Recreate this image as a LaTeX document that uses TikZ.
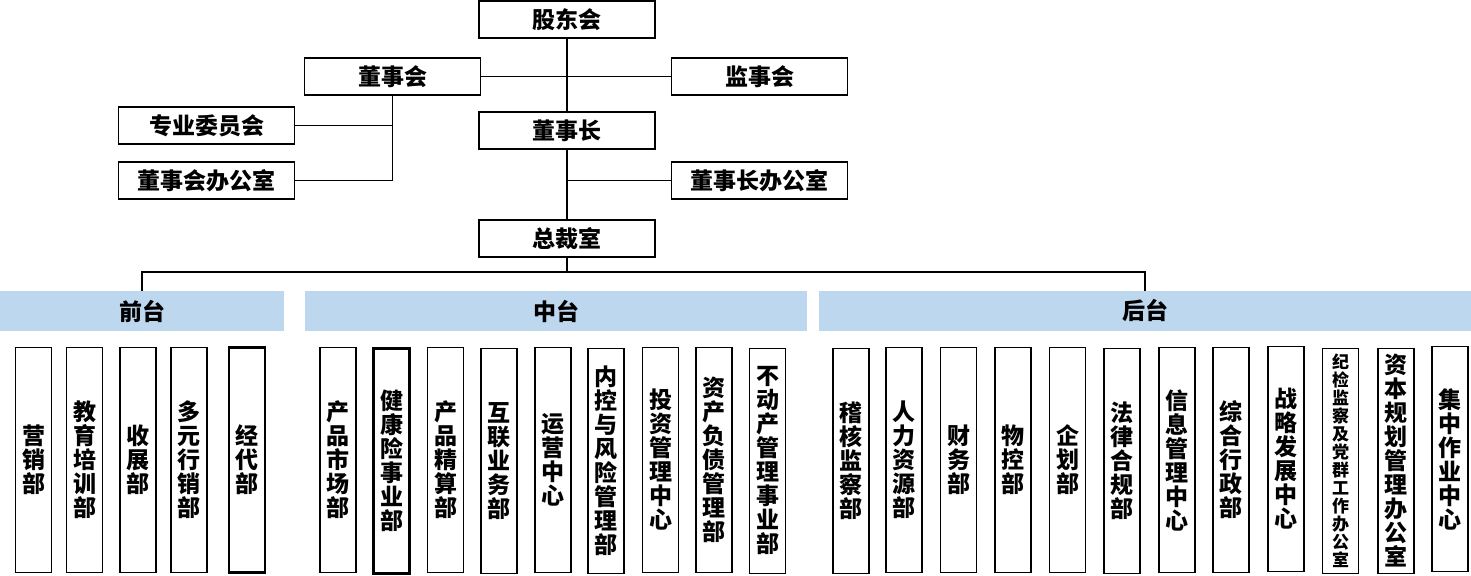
\documentclass[tikz,border=0pt]{standalone}
\usepackage{fontspec}
\setmainfont{Noto Sans CJK SC}
\usepackage{tikz}
\definecolor{bandblue}{HTML}{BDD7EE}

\begin{document}
\begin{tikzpicture}[x=0.5pt,y=-0.5pt,
    org_node/.style={rectangle,draw,line width=0.6pt,minimum width=88pt,minimum height=18.5pt,inner sep=0pt,font=\bfseries\fontsize{11.5}{12}\selectfont},
    band_node/.style={rectangle,fill=bandblue,minimum height=20pt,inner sep=0pt,font=\bfseries\fontsize{11.5}{12}\selectfont},
    dept_node/.style={rectangle,draw,line width=0.6pt,minimum width=18pt,minimum height=112.5pt,inner sep=0pt,align=center,font=\bfseries\fontsize{11.5}{12}\selectfont},
    thick_node/.style={line width=1.2pt}]

    \useasboundingbox (0,0) rectangle (1471,576);

    \node[org_node] (1) at (567, 19.5) {股东会};
    \node[org_node] (2) at (392.5, 76.5) {董事会};
    \node[org_node] (3) at (759.5, 76.5) {监事会};
    \node[org_node] (4) at (206.5, 125.5) {专业委员会};
    \node[org_node, thick_node] (5) at (567, 130.5) {董事长};
    \node[org_node] (6) at (206.5, 180.5) {董事会办公室};
    \node[org_node] (7) at (759.5, 180.5) {董事长办公室};
    \node[org_node] (8) at (567, 238.5) {总裁室};

    \node[band_node, minimum width=142pt] (9) at (142, 311) {前台};
    \node[band_node, minimum width=251pt] (10) at (556, 311) {中台};
    \node[band_node, minimum width=326pt] (11) at (1145, 311) {后台};

    % front
    \node[dept_node] (f1) at (33.5, 460) {营\\销\\部};
    \node[dept_node] (f2) at (84.5, 460) {教\\育\\培\\训\\部};
    \node[dept_node] (f3) at (138, 460) {收\\展\\部};
    \node[dept_node] (f4) at (189, 460) {多\\元\\行\\销\\部};
    \node[dept_node, thick_node] (f5) at (247, 460) {经\\代\\部};

    % middle
    \node[dept_node] (m1) at (338, 460) {产\\品\\市\\场\\部};
    \node[dept_node, thick_node] (m2) at (391.5, 461) {健\\康\\险\\事\\业\\部};
    \node[dept_node] (m3) at (445.5, 460) {产\\品\\精\\算\\部};
    \node[dept_node] (m4) at (499, 461) {互\\联\\业\\务\\部};
    \node[dept_node] (m5) at (553, 460) {运\\营\\中\\心};
    \node[dept_node] (m6) at (606, 461) {内\\控\\与\\风\\险\\管\\理\\部};
    \node[dept_node] (m7) at (660.5, 460) {投\\资\\管\\理\\中\\心};
    \node[dept_node] (m8) at (714, 460) {资\\产\\负\\债\\管\\理\\部};
    \node[dept_node] (m9) at (767.5, 461) {不\\动\\产\\管\\理\\事\\业\\部};

    % back
    \node[dept_node] (b1) at (851, 461) {稽\\核\\监\\察\\部};
    \node[dept_node] (b2) at (904, 460) {人\\力\\资\\源\\部};
    \node[dept_node] (b3) at (958.5, 460) {财\\务\\部};
    \node[dept_node] (b4) at (1013, 460) {物\\控\\部};
    \node[dept_node] (b5) at (1067.5, 460) {企\\划\\部};
    \node[dept_node] (b6) at (1122, 461) {法\\律\\合\\规\\部};
    \node[dept_node] (b7) at (1177, 460) {信\\息\\管\\理\\中\\心};
    \node[dept_node] (b8) at (1231, 460) {综\\合\\行\\政\\部};
    \node[dept_node] (b9) at (1286, 459) {战\\略\\发\\展\\中\\心};
    \node[dept_node, font=\bfseries\fontsize{8.5}{9}\selectfont] (b10) at (1340.5, 461) {纪\\检\\监\\察\\及\\党\\群\\工\\作\\办\\公\\室};
    \node[dept_node] (b11) at (1396, 461) {资\\本\\规\\划\\管\\理\\办\\公\\室};
    \node[dept_node] (b12) at (1450, 459) {集\\中\\作\\业\\中\\心};

    \coordinate (12) at (567, 272);

    \draw[line width=0.6pt] (1) -- (5) -- (8) -- (12);
    \draw[line width=0.6pt] (2) -- (3);
    \draw[line width=0.6pt] (2.south) |- (4.east);
    \draw[line width=0.6pt] (2.south) |- (6.east);
    \draw[line width=0.6pt] (7.west) -| (5.south);
    \draw[line width=0.6pt] (9.north) |- (12) -| (11.north);

\end{tikzpicture}
\end{document}
